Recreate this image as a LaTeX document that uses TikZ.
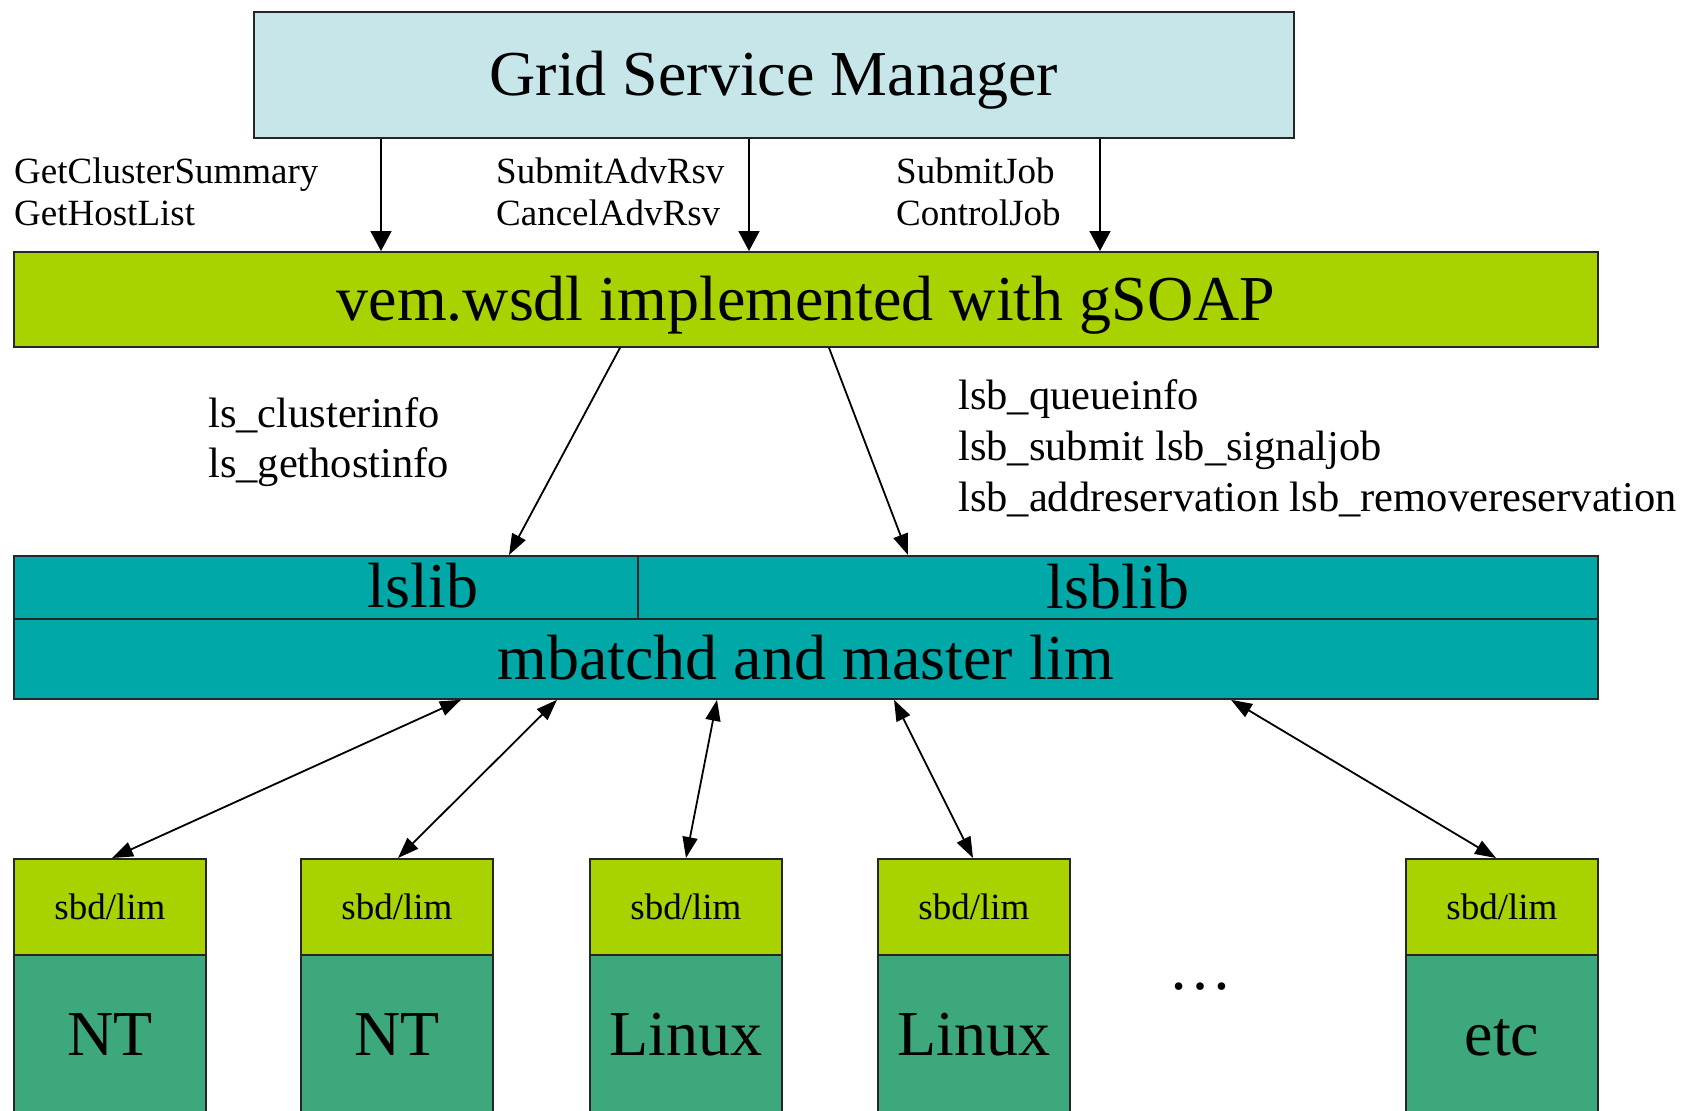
\documentclass[tikz,border=0pt]{standalone}
\usepackage{fontspec}
\setmainfont{Liberation Serif}
\usetikzlibrary{arrows.meta}
\definecolor{gsmc}{RGB}{198,230,233}
\definecolor{limec}{RGB}{168,210,0}
\definecolor{tealc}{RGB}{0,168,168}
\definecolor{osc}{RGB}{61,168,123}
\begin{document}
\begin{tikzpicture}[x=1pt,y=-1pt,
  box/.style={draw=black!85, line width=1.8pt, rectangle, anchor=north west, inner sep=0pt},
  big/.style={font=\fontsize{64}{76}\selectfont, text height=42pt, text depth=0pt},
  small/.style={font=\fontsize{37}{44}\selectfont, text height=24.5pt, text depth=0pt},
  lblsmall/.style={anchor=base west, inner sep=0pt, font=\fontsize{37}{44}\selectfont},
  lblmid/.style={anchor=base west, inner sep=0pt, font=\fontsize{42.5}{50}\selectfont},
  arrA/.style={line width=1.8pt, -{Triangle[length=20pt,width=21pt]}},
  arrB/.style={line width=1.8pt, -{Triangle[length=21pt,width=15pt]}},
  arrC/.style={line width=1.8pt, {Triangle[length=21pt,width=15pt]}-{Triangle[length=21pt,width=15pt]}},
  sbdbox/.style={box, fill=limec, small, minimum width=192pt, minimum height=96pt},
  osbox/.style={box, fill=osc, big, minimum width=192pt, minimum height=159pt}
]
\useasboundingbox (0,0) rectangle (1695,1111);
\fill[white] (0,0) rectangle (1695,1111);

% main boxes
\node[box, fill=gsmc, big, minimum width=1040pt, minimum height=126pt] (gsm) at (253,11) {Grid Service Manager};
\node[box, fill=limec, big, minimum width=1584pt, minimum height=95pt] (vem) at (13,251) {vem.wsdl implemented with gSOAP};
\node[box, fill=tealc, big, minimum width=1584pt, minimum height=80pt] (mb) at (13,618) {mbatchd and master lim};
\node[box, fill=tealc, minimum width=624pt, minimum height=63pt] (lslib) at (13,555) {};
\node[big, inner sep=0pt] (lslibtxt) at (423,586.5) {lslib};
\node[box, fill=tealc, big, minimum width=960pt, minimum height=63pt] (lsblib) at (637,555) {lsblib};

% hosts
\node[sbdbox] (sbd1) at (13,858) {sbd/lim};
\node[osbox] (os1) at (13,954) {NT};
\node[sbdbox] (sbd2) at (300,858) {sbd/lim};
\node[osbox] (os2) at (300,954) {NT};
\node[sbdbox] (sbd3) at (589,858) {sbd/lim};
\node[osbox] (os3) at (589,954) {Linux};
\node[sbdbox] (sbd4) at (877,858) {sbd/lim};
\node[osbox] (os4) at (877,954) {Linux};
\node[sbdbox] (sbd5) at (1405,858) {sbd/lim};
\node[osbox] (os5) at (1405,954) {etc};
\node[anchor=base, inner sep=0pt, font=\fontsize{64}{76}\selectfont] (dots) at (1200,989) {…};

% labels
\node[lblsmall] (l1a) at (14,183) {GetClusterSummary};
\node[lblsmall] (l1b) at (14,225) {GetHostList};
\node[lblsmall] (l2a) at (496,183) {SubmitAdvRsv};
\node[lblsmall] (l2b) at (496,225) {CancelAdvRsv};
\node[lblsmall] (l3a) at (896,183) {SubmitJob};
\node[lblsmall] (l3b) at (896,225) {ControlJob};
\node[lblmid] (m1a) at (208,427) {ls\_clusterinfo};
\node[lblmid] (m1b) at (208,477) {ls\_gethostinfo};
\node[lblmid] (m2a) at (958,409) {lsb\_queueinfo};
\node[lblmid] (m2b) at (958,460) {lsb\_submit lsb\_signaljob};
\node[lblmid] (m2c) at (958,511) {lsb\_addreservation lsb\_removereservation};

% x positions for connector ends
\coordinate (t1) at (381,0);
\coordinate (t2) at (749,0);
\coordinate (t3) at (1100,0);
\coordinate (ma) at (620,0);
\coordinate (mab) at (509,0);
\coordinate (mc) at (829,0);
\coordinate (mcb) at (908,0);
\coordinate (b1t) at (461,0);
\coordinate (b1b) at (112,0);
\coordinate (b2t) at (557,0);
\coordinate (b2b) at (398,0);
\coordinate (b3t) at (717,0);
\coordinate (b3b) at (686,0);
\coordinate (b4t) at (894,0);
\coordinate (b4b) at (973,0);
\coordinate (b5t) at (1231,0);
\coordinate (b5b) at (1496,0);

% connectors
\draw[arrA] (gsm.south -| t1) -- (vem.north -| t1);
\draw[arrA] (gsm.south -| t2) -- (vem.north -| t2);
\draw[arrA] (gsm.south -| t3) -- (vem.north -| t3);
\draw[arrB] (vem.south -| ma) -- (lslib.north -| mab);
\draw[arrB] (vem.south -| mc) -- (lsblib.north -| mcb);
\draw[arrC] (mb.south -| b1t) -- (sbd1.north -| b1b);
\draw[arrC] (mb.south -| b2t) -- (sbd2.north -| b2b);
\draw[arrC] (mb.south -| b3t) -- (sbd3.north -| b3b);
\draw[arrC] (mb.south -| b4t) -- (sbd4.north -| b4b);
\draw[arrC] (mb.south -| b5t) -- (sbd5.north -| b5b);
\end{tikzpicture}
\end{document}
